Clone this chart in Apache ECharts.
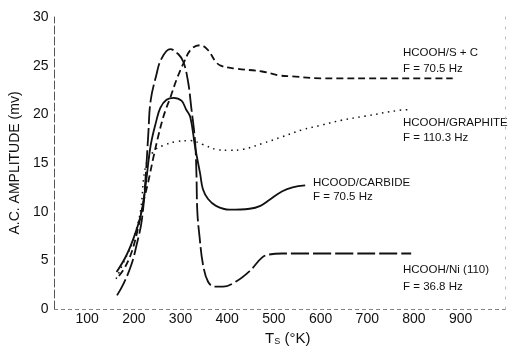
<!DOCTYPE html>
<html>
<head>
<meta charset="utf-8">
<script src="https://cdn.jsdelivr.net/npm/echarts@6.0.0/dist/echarts.min.js"></script>
<style>
  html, body { margin: 0; padding: 0; background: #fff; }
  #chart { width: 510px; height: 351px; }
</style>
</head>
<body>
<div id="chart"></div>
<script>
// values (T in K, amplitude in mV)
const xTicks = [100, 200, 300, 400, 500, 600, 700, 800, 900];

const scT = [168, 180, 195, 208, 221, 231, 242, 253, 263, 270, 278, 291, 306, 323, 342, 359, 374, 386, 418, 475, 511, 539, 603, 745, 883];
const scA = [3.4, 4.2, 5.8, 8.1, 11.1, 13.1, 15.6, 17.9, 19.7, 20.7, 21.7, 23.5, 25.2, 26.7, 27.1, 26.6, 25.5, 25.0, 24.7, 24.4, 24.0, 23.9, 23.7, 23.7, 23.7];

const grT = [162, 179, 195, 206, 215, 225, 242, 263, 291, 321, 348, 376, 405, 433, 475, 518, 560, 603, 645, 694, 766, 794];
const grA = [3.1, 4.9, 6.6, 8.3, 10.3, 14.6, 16.2, 16.8, 17.2, 17.3, 16.9, 16.4, 16.3, 16.4, 17.0, 17.7, 18.4, 18.9, 19.4, 19.8, 20.4, 20.5];

const caT = [163, 185, 204, 217, 226, 236, 248, 257, 270, 285, 302, 312, 321, 331, 342, 348, 359, 376, 405, 448, 471, 490, 518, 540, 567];
const caA = [3.8, 5.6, 7.9, 10.1, 13.0, 16.8, 19.3, 20.7, 21.5, 21.7, 21.4, 20.5, 19.7, 16.7, 13.9, 12.3, 11.3, 10.6, 10.2, 10.3, 10.6, 11.2, 12.1, 12.5, 12.7];

const niT = [164, 178, 195, 206, 217, 225, 231, 236, 248, 259, 278, 295, 306, 316, 323, 331, 334, 336, 341, 348, 359, 373, 391, 418, 448, 475, 490, 518, 794];
const niA = [1.4, 2.6, 4.6, 6.6, 9.1, 13.4, 18.0, 21.4, 24.0, 25.7, 26.7, 26.2, 25.4, 23.4, 20.7, 17.3, 14.0, 10.0, 7.3, 4.6, 2.8, 2.3, 2.3, 2.8, 3.9, 5.3, 5.6, 5.7, 5.7];

const zip = (xs, ys) => xs.map((x, i) => [x, ys[i]]);

const FONT = '"Liberation Sans", Arial, sans-serif';
const ink = '#111';

function line(name, data, type, width) {
  return {
    name, type: 'line', data,
    smooth: 0.4,
    showSymbol: false, symbol: 'none',
    lineStyle: { color: ink, width, type },
    z: 3,
  };
}

function note(x, y, text) {
  return {
    type: 'text', x, y,
    style: { text, font: '11.5px ' + FONT, fill: ink, verticalAlign: 'middle' },
  };
}

const chart = echarts.init(document.getElementById('chart'), null, { renderer: 'canvas' });
chart.setOption({
  animation: false,
  backgroundColor: '#fff',
  grid: { left: 50, right: 5, top: 17, bottom: 35 },
  xAxis: [{
    type: 'value', min: 30, max: 995,
    name: '{t|T}{s|S}{t| (°K)}',
    nameLocation: 'middle', nameGap: 22,
    nameTextStyle: {
      padding: [0, 0, 0, 16],
      rich: {
        t: { fontSize: 15, fontFamily: FONT, color: ink },
        s: { fontSize: 9, fontFamily: FONT, color: ink, verticalAlign: 'bottom', padding: [6, 0, 0, 0] },
      },
    },
    axisLine: { lineStyle: { color: '#666', width: 1, type: [3, 4] } },
    axisTick: { show: false },
    splitLine: { show: false },
    axisLabel: { customValues: xTicks, margin: 3, fontSize: 14, fontFamily: FONT, color: ink },
  }, {
    type: 'value', min: 30, max: 995, position: 'top',
    axisLine: { lineStyle: { color: '#888', width: 1, type: [2, 5] } },
    axisTick: { show: false }, axisLabel: { show: false }, splitLine: { show: false },
  }],
  yAxis: [{
    type: 'value', min: 0, max: 30, interval: 5,
    name: 'A.C. AMPLITUDE (mv)',
    nameLocation: 'middle', nameGap: 31,
    nameTextStyle: { fontSize: 14, fontFamily: FONT, color: ink },
    axisLine: { show: true, lineStyle: { color: '#555', width: 1, type: [8, 3] } },
    axisTick: { show: false },
    splitLine: { show: false },
    axisLabel: { margin: 6, fontSize: 14, fontFamily: FONT, color: ink },
  }, {
    type: 'value', min: 0, max: 30, position: 'right',
    axisLine: { show: true, lineStyle: { color: '#bbb', width: 1, type: [2, 8] } },
    axisTick: { show: false }, axisLabel: { show: false }, splitLine: { show: false },
  }],
  series: [
    line('HCOOH/S + C', zip(scT, scA), [7, 4], 1.8),
    line('HCOOH/GRAPHITE', zip(grT, grA), [1.5, 4.5], 1.5),
    line('HCOOD/CARBIDE', zip(caT, caA), 'solid', 1.8),
    line('HCOOH/Ni (110)', zip(niT, niA), [18, 4], 1.8),
  ],
  graphic: [
    note(403, 53, 'HCOOH/S + C'),
    note(403, 69, 'F = 70.5 Hz'),
    note(403, 123, 'HCOOH/GRAPHITE'),
    note(403, 138, 'F = 110.3 Hz'),
    note(313, 183, 'HCOOD/CARBIDE'),
    note(313, 197, 'F = 70.5 Hz'),
    note(403, 270, 'HCOOH/Ni (110)'),
    note(403, 287, 'F = 36.8 Hz'),
  ],
});
</script>
</body>
</html>
